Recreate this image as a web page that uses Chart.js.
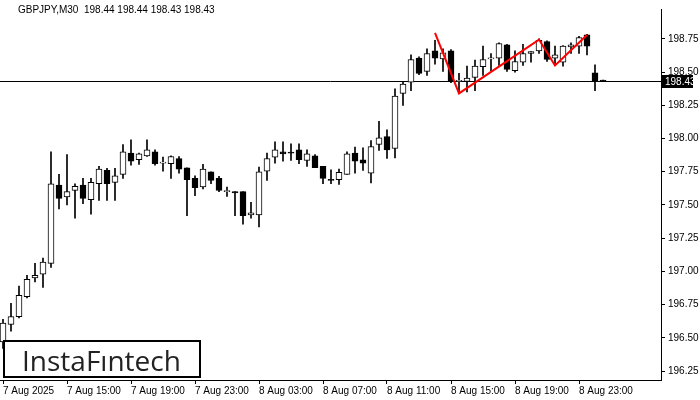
<!DOCTYPE html>
<html>
<head>
<meta charset="utf-8">
<script src="https://cdn.jsdelivr.net/npm/chart.js@4/dist/chart.umd.min.js"></script>
<style>
  html, body { margin: 0; padding: 0; background: #fff; }
  #wrap { width: 700px; height: 400px; }
</style>
</head>
<body>
<div id="wrap"><canvas id="chart-canvas"></canvas></div>
<script>
// GBPJPY M30 candles, 7 Aug 11:00 onwards
var opens = [196.47,196.60,196.66,196.81,196.95,196.98,197.06,197.65,197.56,197.61,
  197.65,197.54,197.66,197.76,197.67,197.73,197.89,197.84,197.87,197.90,
  197.815,197.81,197.85,197.78,197.70,197.635,197.75,197.70,197.60,197.60,
  197.60,197.425,197.425,197.755,197.86,197.90,197.895,197.915,197.835,197.87,
  197.79,197.69,197.69,197.73,197.89,197.84,197.74,197.955,198.015,197.925,
  198.34,198.425,198.605,198.505,198.66,198.60,198.66,198.43,198.43,198.46,
  198.54,198.60,198.605,198.705,198.51,198.575,198.64,198.66,198.73,198.605,
  198.575,198.69,198.695,198.78,198.495,198.44]
var highs = [196.64,196.76,196.89,196.97,197.06,197.10,197.90,197.73,197.88,197.66,
  197.70,197.70,197.79,197.775,197.775,197.955,197.99,197.89,197.99,197.915,
  197.86,197.87,197.865,197.78,197.72,197.805,197.75,197.715,197.635,197.60,
  197.60,197.52,197.785,197.89,197.975,197.975,197.96,197.96,197.915,197.88,
  197.79,197.765,197.77,197.90,197.935,197.93,197.985,198.13,198.065,198.375,
  198.43,198.63,198.615,198.675,198.74,198.675,198.67,198.49,198.545,198.59,
  198.695,198.64,198.72,198.71,198.66,198.71,198.655,198.75,198.735,198.695,
  198.70,198.72,198.77,198.785,198.555,198.44]
var lows = [196.42,196.55,196.65,196.80,196.92,196.88,197.03,197.47,197.50,197.40,
  197.51,197.43,197.535,197.535,197.535,197.70,197.80,197.805,197.865,197.80,
  197.755,197.70,197.74,197.42,197.57,197.62,197.66,197.60,197.565,197.42,
  197.355,197.40,197.335,197.685,197.815,197.83,197.835,197.81,197.79,197.78,
  197.66,197.66,197.655,197.73,197.74,197.76,197.665,197.91,197.85,197.855,
  198.25,198.36,198.48,198.475,198.56,198.505,198.42,198.34,198.35,198.36,
  198.475,198.51,198.55,198.505,198.50,198.55,198.575,198.64,198.58,198.555,
  198.545,198.64,198.64,198.63,198.36,198.43]
var closes = [196.61,196.66,196.82,196.94,196.97,197.07,197.66,197.55,197.60,197.64,
  197.55,197.67,197.77,197.66,197.72,197.90,197.83,197.885,197.915,197.81,
  197.82,197.865,197.77,197.69,197.63,197.77,197.685,197.61,197.60,197.59,
  197.42,197.44,197.75,197.85,197.915,197.885,197.89,197.84,197.885,197.78,
  197.70,197.685,197.745,197.885,197.83,197.815,197.94,198.005,197.915,198.32,
  198.41,198.595,198.49,198.64,198.605,198.645,198.43,198.435,198.455,198.545,
  198.595,198.605,198.715,198.52,198.58,198.64,198.655,198.74,198.595,198.63,
  198.695,198.705,198.76,198.695,198.435,198.43]

// tick labels every 8 candles (4 hours)
var timeLabels = ['7 Aug 2025','7 Aug 15:00','7 Aug 19:00','7 Aug 23:00','8 Aug 03:00',
  '8 Aug 07:00','8 Aug 11:00','8 Aug 15:00','8 Aug 19:00','8 Aug 23:00']

// red pattern line (candle index, price)
var patternX = [54, 57, 67, 69, 73]
var patternY = [198.795, 198.34, 198.745, 198.55, 198.78]

var lastPrice = 198.43
var titleText = 'GBPJPY,M30  198.44 198.44 198.43 198.43'

var wicks = [], bodies = [], bodyColors = []
for (var i = 0; i < opens.length; i++) {
  wicks.push({x: i, y: [lows[i], highs[i]]})
  bodies.push({x: i, y: [opens[i], closes[i]]})
  bodyColors.push(closes[i] >= opens[i] ? '#ffffff' : '#000000')
}
var pattern = patternX.map(function (x, k) { return {x: x, y: patternY[k]} })

var overlay = {
  id: 'overlay',
  beforeDatasetsDraw: function (chart) {
    var c = chart.ctx, a = chart.chartArea
    var py = Math.round(chart.scales.y.getPixelForValue(lastPrice)) + 0.5
    c.save()
    c.strokeStyle = '#000'
    c.lineWidth = 1
    c.beginPath(); c.moveTo(a.left, py); c.lineTo(a.right, py); c.stroke()
    c.restore()
  },
  afterDraw: function (chart) {
    var c = chart.ctx, a = chart.chartArea
    var py = Math.round(chart.scales.y.getPixelForValue(lastPrice))
    c.save()
    // title
    c.fillStyle = '#000'
    c.font = '10px "Liberation Sans"'
    c.textBaseline = 'middle'
    c.fillText(titleText, 18, 10)
    // price tag
    c.fillStyle = '#000'
    c.fillRect(a.right, py - 6, 32, 13)
    c.fillStyle = '#fff'
    c.fillText(lastPrice.toFixed(2), a.right + 4, py + 1)
    // logo box
    c.fillStyle = '#fff'
    c.fillRect(4, 341, 196, 36)
    c.strokeStyle = '#000'
    c.lineWidth = 2
    c.strokeRect(4, 341, 196, 36)
    c.fillStyle = '#222'
    c.font = '500 28px "Open Sans"'
    c.textBaseline = 'alphabetic'
    c.fillText('InstaFıntech', 22, 371)
    c.restore()
  }
}

var ctx = document.getElementById('chart-canvas').getContext('2d')
var chart = new Chart(ctx, {
  type: 'bar',
  data: {
    datasets: [
      {
        type: 'line',
        data: pattern,
        borderColor: '#ff0000',
        borderWidth: 2,
        pointRadius: 0,
        order: 0
      },
      {
        data: bodies,
        backgroundColor: bodyColors,
        borderColor: '#000',
        borderWidth: 1,
        borderSkipped: false,
        barThickness: 6,
        minBarLength: 1,
        grouped: false,
        order: 1
      },
      {
        data: wicks,
        backgroundColor: '#000',
        borderWidth: 0,
        barThickness: 1,
        grouped: false,
        order: 2
      }
    ]
  },
  options: {
    responsive: true,
    maintainAspectRatio: false,
    animation: false,
    layout: { padding: { top: 2, left: 0, right: 0, bottom: 0 } },
    plugins: { legend: { display: false }, tooltip: { enabled: false } },
    scales: {
      x: {
        type: 'linear',
        offset: false,
        min: -0.375,
        max: 82.25,
        afterBuildTicks: function (axis) {
          axis.ticks = timeLabels.map(function (t, k) { return {value: k * 8} })
        },
        afterFit: function (axis) { axis.height = 20 },
        grid: { offset: false, drawOnChartArea: false, drawTicks: true, tickLength: 4, color: '#000' },
        border: { color: '#000', width: 1 },
        ticks: {
          align: 'start',
          maxRotation: 0,
          autoSkip: false,
          padding: 1,
          color: '#000',
          font: { family: 'Liberation Sans', size: 10 },
          callback: function (v) { return timeLabels[Math.round(v / 8)] }
        }
      },
      y: {
        position: 'right',
        min: 196.1825,
        max: 198.975,
        afterBuildTicks: function (axis) {
          var t = []
          for (var k = 0; k <= 10; k++) t.push({value: 196.25 + k * 0.25})
          axis.ticks = t
        },
        afterFit: function (axis) { axis.width = 39 },
        grid: { drawOnChartArea: false, drawTicks: true, tickLength: 4, color: '#000' },
        border: { color: '#000', width: 1 },
        ticks: {
          padding: 3,
          color: '#000',
          font: { family: 'Liberation Sans', size: 10 },
          callback: function (v) { return v.toFixed(2) }
        }
      }
    }
  },
  plugins: [overlay]
})
</script>
</body>
</html>
